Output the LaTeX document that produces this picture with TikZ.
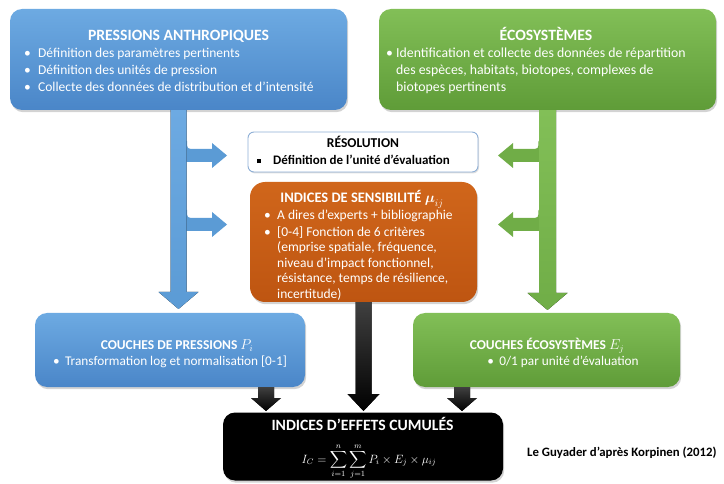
\documentclass[tikz,border=0pt]{standalone}
\usepackage{amsmath}
\usepackage{fontspec}
\setmainfont{Carlito}
\usetikzlibrary{calc,shadows}
\definecolor{blueT}{HTML}{6DAAE2}
\definecolor{blueB}{HTML}{4A86C8}
\definecolor{blueA}{HTML}{5B9BD5}
\definecolor{greenT}{HTML}{82BF57}
\definecolor{greenB}{HTML}{5F9C38}
\definecolor{greenA}{HTML}{70AD47}
\definecolor{orangeT}{HTML}{D0661B}
\definecolor{orangeB}{HTML}{BE5511}
\definecolor{resline}{HTML}{8EAFD6}

% vertical block arrow: start, tip, half shaft, half head, head length, style
\newcommand\blkdown[6]{%
  \path (#1) coordinate (bs) (#1 |- #2) coordinate (bt);
  \fill[#6] ($(bs)+(-#3,0)$) -- ($(bt)+(-#3,-#5)$) -- ($(bt)+(-#4,-#5)$) -- (bt)
     -- ($(bt)+(#4,-#5)$) -- ($(bt)+(#3,-#5)$) -- ($(bs)+(#3,0)$) -- cycle;}
% branch arrow to the right
\newcommand\blkright[6]{%
  \path (#1) coordinate (bs) (#2 |- #1) coordinate (bt);
  \fill[#6] ($(bs)+(0,-#3-8)$) .. controls ($(bs)+(0,-#3)$) .. ($(bs)+(8,-#3)$)
     -- ($(bt)+(-#5,-#3)$) -- ($(bt)+(-#5,-#4)$) -- (bt) -- ($(bt)+(-#5,#4)$)
     -- ($(bt)+(-#5,#3)$) -- ($(bs)+(-1,#3)$) -- ($(bs)+(-1,-#3-8)$) -- cycle;}
% branch arrow to the left
\newcommand\blkleft[6]{%
  \path (#1) coordinate (bs) (#2 |- #1) coordinate (bt);
  \fill[#6] ($(bs)+(0,-#3-8)$) .. controls ($(bs)+(0,-#3)$) .. ($(bs)+(-8,-#3)$)
     -- ($(bt)+(#5,-#3)$) -- ($(bt)+(#5,-#4)$) -- (bt) -- ($(bt)+(#5,#4)$)
     -- ($(bt)+(#5,#3)$) -- ($(bs)+(1,#3)$) -- ($(bs)+(1,-#3-8)$) -- cycle;}

\newcommand\bul[1]{\makebox[#1][l]{\textbullet}}

\tikzset{
  boxbase/.style={rounded corners=12pt, draw=none, inner sep=0pt,
    drop shadow={opacity=0.35, shadow xshift=1.2pt, shadow yshift=-2.2pt}},
  bluebox/.style={boxbase, top color=blueT, bottom color=blueB},
  greenbox/.style={boxbase, top color=greenT, bottom color=greenB},
  orangebox/.style={boxbase, rounded corners=15pt, top color=orangeT, bottom color=orangeB},
  blackbox/.style={boxbase, fill=black},
  resbox/.style={rounded corners=6pt, fill=white, draw=resline, line width=0.9pt, inner sep=0pt,
    drop shadow={opacity=0.25, shadow xshift=1pt, shadow yshift=-1.5pt}},
  bigtitle/.style={inner sep=0pt, anchor=base, font=\bfseries\fontsize{15.7}{18}\selectfont},
  midtitle/.style={inner sep=0pt, anchor=base, font=\bfseries\fontsize{14.5}{17}\selectfont},
  smalltitle/.style={inner sep=0pt, anchor=base, font=\bfseries\fontsize{13.5}{16}\selectfont},
  line/.style={inner sep=0pt, anchor=base west, font=\fontsize{13.5}{16}\selectfont},
  wtxt/.style={text=white},
  bluearrow/.style={top color=blueT, bottom color=blueA},
  greenarrow/.style={top color=greenT, bottom color=greenA},
  blackarrow/.style={top color=black!75, bottom color=black},
}

\begin{document}
\begin{tikzpicture}[x=1pt,y=-1pt]
\useasboundingbox (0,0) rectangle (724,484);

% ---- boxes (named) ----
\node[bluebox, minimum width=337pt, minimum height=101pt] (pa) at (178.5,59.5) {};
\node[greenbox, minimum width=337pt, minimum height=101pt] (eco) at (547.5,59.5) {};

% ---- arrows ----
\coordinate (bluetip) at (178.5,309);
\coordinate (greentip) at (547,310);
\coordinate (b1) at (187,155.5);  \coordinate (b1t) at (227,155.5);
\coordinate (b2) at (187,224.5);  \coordinate (b2t) at (227,224.5);
\coordinate (g1) at (538.5,155.5); \coordinate (g1t) at (498,155.5);
\coordinate (g2) at (538.5,224.5); \coordinate (g2t) at (498,224.5);
\blkright{b1}{b1t}{6.5}{12.5}{15}{blueA}
\blkright{b2}{b2t}{6.5}{12.5}{15}{blueA}
\blkleft{g1}{g1t}{6.5}{12.5}{15}{greenA}
\blkleft{g2}{g2t}{6.5}{12.5}{15}{greenA}

\node[resbox, minimum width=230pt, minimum height=40pt] (res) at (363,152) {};
\node[orangebox, minimum width=227pt, minimum height=120pt] (sens) at (363.5,242) {};
\node[bluebox, minimum width=270pt, minimum height=74pt] (cp) at (170,350) {};
\node[greenbox, minimum width=267pt, minimum height=74pt] (ce) at (546.5,350) {};
\node[blackbox, minimum width=280pt, minimum height=68pt] (ic) at (363,446.5) {};

% main shafts
\blkdown{pa.south}{bluetip}{8}{20}{17}{bluearrow}
\blkdown{eco.south}{greentip}{8.5}{20}{17}{greenarrow}

% black arrows
\coordinate (icmid) at (363.5,411);
\coordinate (cpfoot) at (266,387);
\coordinate (cefoot) at (462,387);
\blkdown{sens.south}{icmid}{8}{16}{17}{blackarrow}
\blkdown{cpfoot}{icmid}{8}{15}{13}{blackarrow}
\blkdown{cefoot}{icmid}{8}{15}{13}{blackarrow}

% ---- texts ----
\node[bigtitle, wtxt] (pat) at (178.5,40.5) {PRESSIONS ANTHROPIQUES};
\node[line, wtxt] (pa1) at (24,58) {\bul{14pt}Définition des paramètres pertinents};
\node[line, wtxt] (pa2) at (24,75) {\bul{14pt}Définition des unités de pression};
\node[line, wtxt] (pa3) at (24,91.5) {\bul{14pt}Collecte des données de distribution et d’intensité};

\node[bigtitle, wtxt] (ecot) at (546,40.5) {ÉCOSYSTÈMES};
\node[line, wtxt, font=\fontsize{13.8}{16}\selectfont] (eco1) at (386,58) {\bul{10pt}Identification et collecte des données de répartition};
\node[line, wtxt, font=\fontsize{13.8}{16}\selectfont] (eco2) at (396,75) {des espèces, habitats, biotopes, complexes de};
\node[line, wtxt, font=\fontsize{13.8}{16}\selectfont] (eco3) at (396,91.5) {biotopes pertinents};

\node[smalltitle] (rest) at (363,148) {RÉSOLUTION};
\node[line, font=\bfseries\fontsize{13}{15}\selectfont] (res1) at (257,165)
  {\makebox[16pt][l]{\raisebox{1.8pt}{\rule{4pt}{4pt}}}Définition de l’unité d’évaluation};

\node[midtitle, wtxt] (senst) at (362,203) {INDICES DE SENSIBILITÉ $\boldsymbol{\mu}_{ij}$};
\node[line, wtxt] (sens1) at (264,220) {\bul{13pt}A dires d’experts + bibliographie};
\node[line, wtxt] (sens2) at (264,236.5) {\bul{13pt}[0-4] Fonction de 6 critères};
\node[line, wtxt] (sens3) at (277,252) {(emprise spatiale, fréquence,};
\node[line, wtxt] (sens4) at (277,267.5) {niveau d’impact fonctionnel,};
\node[line, wtxt] (sens5) at (277,283) {résistance, temps de résilience,};
\node[line, wtxt] (sens6) at (277,298.5) {incertitude)};

\node[smalltitle, wtxt] (cpt) at (177,349) {COUCHES DE PRESSIONS $P_i$};
\node[line, wtxt, anchor=base, font=\fontsize{13.3}{16}\selectfont] (cp1) at (170,365) {\bul{12pt}Transformation log et normalisation [0-1]};

\node[smalltitle, wtxt] (cet) at (547,349) {COUCHES ÉCOSYSTÈMES $E_j$};
\node[line, wtxt, anchor=base, font=\fontsize{13.3}{16}\selectfont] (ce1) at (563,365) {\bul{12pt}0/1 par unité d’évaluation};

\node[bigtitle, wtxt] (ict) at (362.5,430.5) {INDICES D’EFFETS CUMULÉS};
\node[wtxt, inner sep=0pt, font=\fontsize{11.8}{14}\selectfont] (icf) at (369,461.5)
  {$\displaystyle I_C=\sum_{i=1}^{n}\sum_{j=1}^{m}P_i\times E_j\times \mu_{ij}$};

\node[line, font=\bfseries\fontsize{12.8}{15}\selectfont] (credit) at (527,456) {Le Guyader d’après Korpinen (2012)};
\end{tikzpicture}
\end{document}
